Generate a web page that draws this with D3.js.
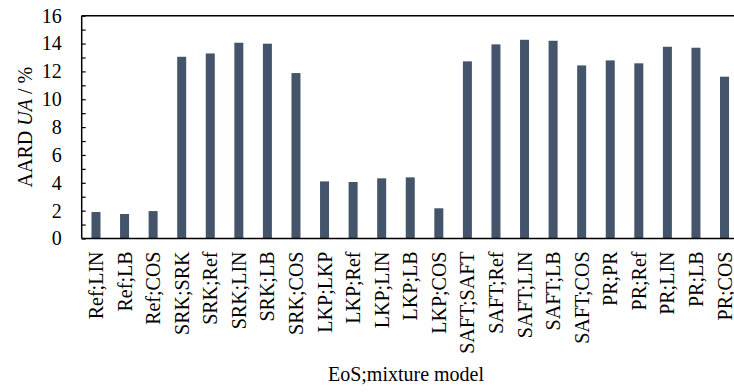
<!DOCTYPE html>
<html>
<head>
<meta charset="utf-8">
<script src="https://cdn.jsdelivr.net/npm/d3@7"></script>
<style>
  html, body { margin: 0; padding: 0; background: #fff; }
  svg { display: block; }
  text { font-family: "Liberation Serif", "Times New Roman", serif; fill: #000; }
</style>
</head>
<body>
<svg id="chart" width="734" height="392"></svg>
<script>
// Equation of state ; mixture model combinations
const categories = [
  "Ref;LIN", "Ref;LB", "Ref;COS",
  "SRK;SRK", "SRK;Ref", "SRK;LIN", "SRK;LB", "SRK;COS",
  "LKP;LKP", "LKP;Ref", "LKP;LIN", "LKP;LB", "LKP;COS",
  "SAFT;SAFT", "SAFT;Ref", "SAFT;LIN", "SAFT;LB", "SAFT;COS",
  "PR;PR", "PR;Ref", "PR;LIN", "PR;LB", "PR;COS"
];
// AARD of speed of sound, %
const aardValues = [
  1.90, 1.76, 1.97,
  13.05, 13.29, 14.06, 13.99, 11.88,
  4.10, 4.06, 4.32, 4.39, 2.17,
  12.72, 13.94, 14.27, 14.20, 12.43,
  12.79, 12.58, 13.77, 13.70, 11.62
];
const yMajorTicks = [0, 2, 4, 6, 8, 10, 12, 14, 16];
const yMinorTicks = d3.range(0, 17, 1);

const svg = d3.select("#chart");
const plotLeft = 81.7, plotTop = 15.7, plotBottom = 238.5;
const plotRight = plotLeft + 23 * 28.57;

const x = d3.scaleBand()
  .domain(categories)
  .range([plotLeft, plotRight])
  .paddingInner(0.685)
  .paddingOuter(0.3425);

const y = d3.scaleLinear().domain([0, 16]).range([plotBottom, plotTop]);

// bars
svg.append("g")
  .selectAll("rect")
  .data(categories.map((c, i) => ({ c, v: aardValues[i] })))
  .join("rect")
  .attr("x", d => x(d.c))
  .attr("width", x.bandwidth())
  .attr("y", d => y(d.v))
  .attr("height", d => y(0) - y(d.v))
  .attr("fill", "#44546a");

// minor inside ticks on the value axis
svg.append("g")
  .attr("transform", `translate(${plotLeft},0)`)
  .call(d3.axisRight(y).tickValues(yMinorTicks).tickSize(4).tickFormat(""))
  .call(g => g.select(".domain").remove())
  .call(g => g.selectAll("line").attr("stroke", "#000").attr("stroke-width", 1.2));

// value axis labels
svg.append("g")
  .attr("transform", `translate(${plotLeft},0)`)
  .call(d3.axisLeft(y).tickValues(yMajorTicks).tickSize(0).tickPadding(20).tickFormat(d3.format("d")))
  .call(g => g.select(".domain").remove())
  .call(g => g.selectAll("text")
    .style("font-family", "'Liberation Serif', serif")
    .style("font-size", "20px")
    .attr("fill", "#000"));

// category axis with rotated labels
const xAxis = svg.append("g")
  .attr("transform", `translate(0,${plotBottom})`)
  .call(d3.axisBottom(x).tickSize(0).tickPadding(0))
  .call(g => g.select(".domain").remove());
xAxis.selectAll("text")
  .style("font-family", "'Liberation Serif', serif")
  .style("font-size", "20px")
  .attr("fill", "#000")
  .attr("text-anchor", "end")
  .attr("transform", "rotate(-90)")
  .attr("x", -13)
  .attr("y", 0)
  .attr("dy", "0.35em");

// frame lines: left, top, bottom
svg.append("line").attr("x1", plotLeft).attr("x2", plotLeft).attr("y1", plotTop).attr("y2", plotBottom)
  .attr("stroke", "#000").attr("stroke-width", 1.5);
svg.append("line").attr("x1", plotLeft).attr("x2", 734).attr("y1", plotTop).attr("y2", plotTop)
  .attr("stroke", "#000").attr("stroke-width", 1.5);
svg.append("line").attr("x1", plotLeft).attr("x2", 734).attr("y1", plotBottom).attr("y2", plotBottom)
  .attr("stroke", "#000").attr("stroke-width", 1.5);

// axis titles
const yTitle = svg.append("text")
  .attr("transform", `translate(32,${(plotTop + plotBottom) / 2}) rotate(-90)`)
  .attr("text-anchor", "middle")
  .style("font-size", "20px");
yTitle.append("tspan").text("AARD ");
yTitle.append("tspan").style("font-style", "italic").text("UA");
yTitle.append("tspan").text(" / %");

svg.append("text")
  .attr("x", 406)
  .attr("y", 381)
  .attr("text-anchor", "middle")
  .style("font-size", "20px")
  .text("EoS;mixture model");
</script>
</body>
</html>
